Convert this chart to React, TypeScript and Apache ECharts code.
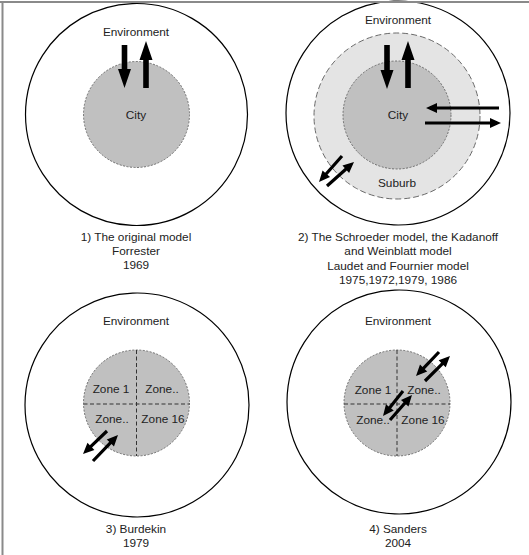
import React, { useEffect, useRef } from "react";
import * as echarts from "echarts";

const W = 529;
const H = 555;

// circles: [cx, cy, r, kind]  kind: 0 environment, 1 suburb, 2 city
const circleKinds = ["Environment", "Suburb", "City"];
const circles: number[][] = [
  [136.5, 114.5, 111, 0],
  [398, 113, 112, 0],
  [137, 405, 112, 0],
  [399, 402, 112, 0],
  [397, 116, 83, 1],
  [136.5, 114.5, 53, 2],
  [397, 115, 54, 2],
  [136.5, 403, 53, 2],
  [397, 403, 53, 2],
];

// zone divider lines: [x0, y0, x1, y1]
const zoneLines: number[][] = [
  [136.5, 350, 136.5, 456],
  [83.5, 404, 189.5, 404],
  [397, 350, 397, 456],
  [344, 404, 450, 404],
];

// flows: [x0, y0, xTip, yTip, kind]  kind: 0 bold, 1 thin
const flows: number[][] = [
  [124.5, 45, 124.5, 88, 0],
  [146, 88, 146, 41, 0],
  [387, 45, 387, 89, 0],
  [408, 88, 408, 41, 0],
  [499, 108, 426, 108, 1],
  [425, 123, 501, 123, 1],
  [342, 156, 319, 182, 1],
  [327, 186, 354, 162, 1],
  [107, 431, 83, 454, 1],
  [93, 461, 118, 435, 1],
  [439, 352, 416, 376, 1],
  [425, 381, 450, 356, 1],
  [403, 391, 383, 416, 1],
  [390, 420, 412, 395, 1],
];

// labels
const labelX = [136, 136, 398, 398, 397, 136, 398, 111, 162, 112, 163, 373, 424, 373, 423];
const labelY = [32, 115, 20, 115, 183, 321, 321, 389, 389, 419, 419, 390, 390, 420, 420];
const labelText = [
  "Environment", "City",
  "Environment", "City", "Suburb",
  "Environment", "Environment",
  "Zone 1", "Zone..", "Zone..", "Zone 16",
  "Zone 1", "Zone..", "Zone..", "Zone 16",
];

const captionX = [136, 136, 136, 398, 398, 398, 398, 136, 136, 398, 398];
const captionY = [237, 251, 265, 237, 251, 266, 280, 529, 543, 529, 543];
const captionText = [
  "1) The original model", "Forrester", "1969",
  "2) The Schroeder model, the Kadanoff", "and Weinblatt model", "Laudet and Fournier model", "1975,1972,1979, 1986",
  "3) Burdekin", "1979",
  "4) Sanders", "2004",
];

const FONT = "'Liberation Sans', Arial, sans-serif";

function arrowPoints(p0: number[], p1: number[], w: number, hw: number, hl: number) {
  const dx = p1[0] - p0[0];
  const dy = p1[1] - p0[1];
  const len = Math.sqrt(dx * dx + dy * dy);
  const ux = dx / len, uy = dy / len;
  const nx = -uy, ny = ux;
  const bx = p1[0] - ux * hl, by = p1[1] - uy * hl;
  return [
    [p0[0] + nx * w, p0[1] + ny * w],
    [bx + nx * w, by + ny * w],
    [bx + nx * hw, by + ny * hw],
    [p1[0], p1[1]],
    [bx - nx * hw, by - ny * hw],
    [bx - nx * w, by - ny * w],
    [p0[0] - nx * w, p0[1] - ny * w],
  ];
}

export default function App() {
  const ref = useRef<HTMLDivElement>(null);
  useEffect(() => {
    document.body.style.margin = "0";
    const chart = echarts.init(ref.current!, null, { renderer: "svg" });
    const circleStyles = [
      { fill: "#ffffff", stroke: "#000000", lineWidth: 1.2 },
      { fill: "#e4e4e4", stroke: "#6a6a6a", lineWidth: 1, lineDash: [6, 3] },
      { fill: "#c0c0c0", stroke: "#555555", lineWidth: 0.8, lineDash: [2, 1.5] },
    ];
    const textData = labelText.map((t, i) => [labelX[i], labelY[i], i]);
    const capData = captionText.map((t, i) => [captionX[i], captionY[i], i]);
    const textStyle = { fill: "#222222", fontSize: 11.8, fontFamily: FONT, align: "center", verticalAlign: "middle" };
    chart.setOption({
      animation: false,
      grid: { left: 0, right: 0, top: 0, bottom: 0 },
      xAxis: { type: "value", min: 0, max: W, show: false },
      yAxis: { type: "value", min: 0, max: H, inverse: true, show: false },
      graphic: [
        { type: "line", shape: { x1: 0, y1: 2, x2: W, y2: 2 }, style: { stroke: "#8a8a8a", lineWidth: 2 }, z: 100 },
        { type: "line", shape: { x1: 2.5, y1: 1, x2: 2.5, y2: H }, style: { stroke: "#8a8a8a", lineWidth: 2 }, z: 100 },
      ],
      series: [
        {
          type: "custom",
          name: "areas",
          z: 1,
          data: circles,
          renderItem: (params: any, api: any) => {
            const c = api.coord([api.value(0), api.value(1)]);
            const r = api.size([api.value(2), 0])[0];
            const k = circles[params.dataIndex][3];
            return { type: "circle", shape: { cx: c[0], cy: c[1], r }, style: circleStyles[k] };
          },
        },
        {
          type: "custom",
          name: "zones",
          z: 2,
          data: zoneLines,
          renderItem: (params: any, api: any) => {
            const a = api.coord([api.value(0), api.value(1)]);
            const b = api.coord([api.value(2), api.value(3)]);
            return {
              type: "line",
              shape: { x1: a[0], y1: a[1], x2: b[0], y2: b[1] },
              style: { stroke: "#333333", lineWidth: 1, lineDash: [4, 2.5] },
            };
          },
        },
        {
          type: "custom",
          name: "flows",
          z: 3,
          data: flows,
          renderItem: (params: any, api: any) => {
            const a = api.coord([api.value(0), api.value(1)]);
            const b = api.coord([api.value(2), api.value(3)]);
            const k = api.value(4);
            const pts = k === 0 ? arrowPoints(a, b, 2.8, 6.5, 19) : arrowPoints(a, b, 1.6, 5, 11);
            return { type: "polygon", shape: { points: pts }, style: { fill: "#000000" } };
          },
        },
        {
          type: "custom",
          name: "labels",
          z: 4,
          data: textData,
          renderItem: (params: any, api: any) => {
            const c = api.coord([api.value(0), api.value(1)]);
            return { type: "text", x: c[0], y: c[1], style: { ...textStyle, text: labelText[params.dataIndex] } };
          },
        },
        {
          type: "custom",
          name: "captions",
          z: 4,
          data: capData,
          renderItem: (params: any, api: any) => {
            const c = api.coord([api.value(0), api.value(1)]);
            return { type: "text", x: c[0], y: c[1], style: { ...textStyle, text: captionText[params.dataIndex] } };
          },
        },
      ],
    });
    return () => chart.dispose();
  }, []);
  return <div ref={ref} style={{ width: W, height: H }} />;
}
